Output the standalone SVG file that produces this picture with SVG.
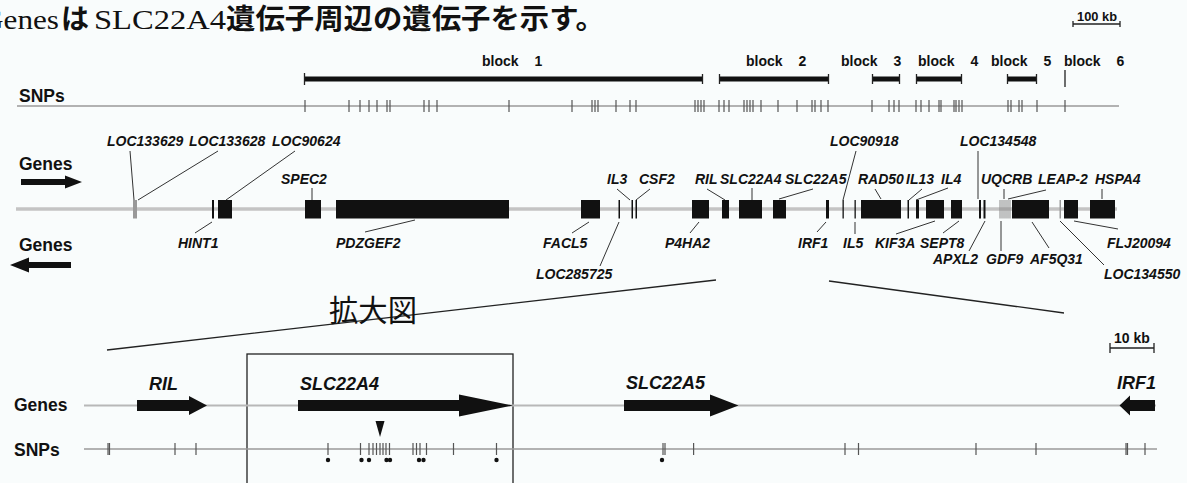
<svg xmlns="http://www.w3.org/2000/svg" width="1187" height="483" viewBox="0 0 1187 483">
<style>
text{fill:#111}
.t{font-family:'Liberation Serif','Noto Sans CJK JP',serif;font-size:28px}
.j{font-family:'Noto Sans CJK JP',sans-serif;font-size:28px;font-weight:bold}
.h{font-family:'Liberation Sans',Arial,sans-serif;font-weight:bold;font-size:17.5px}
.b{font-family:'Liberation Sans',Arial,sans-serif;font-weight:bold;font-size:14px;word-spacing:12px}
.g{font-family:'Liberation Sans',Arial,sans-serif;font-weight:bold;font-style:italic;font-size:14px}
.G{font-family:'Liberation Sans',Arial,sans-serif;font-weight:bold;font-style:italic;font-size:18px}
.s{font-family:'Liberation Sans',Arial,sans-serif;font-weight:bold;font-size:12px}
.bar{fill:#111}
.gl{stroke:#c4c4c4;stroke-width:3.5;fill:none}
.gl2{stroke:#b8b8b8;stroke-width:2;fill:none}
.sl{stroke:#9a9a9a;stroke-width:1.3;fill:none}
.tk{stroke:#555;stroke-width:1.2;fill:none}
.ld{stroke:#333;stroke-width:1;fill:none}
.thin{fill:#999}
.k{stroke:#222;stroke-width:1.3;fill:none}
</style>
<rect width="1187" height="483" fill="#f9fcfc"/>

<g id="title">
<text class="t" x="-19" y="29" textLength="78" lengthAdjust="spacingAndGlyphs">Genes</text>
<text class="j" x="61" y="29">は</text>
<text class="t" x="94" y="29" textLength="132" lengthAdjust="spacingAndGlyphs">SLC22A4</text>
<text class="j" x="226" y="29" textLength="379" lengthAdjust="spacingAndGlyphs">遺伝子周辺の遺伝子を示す。</text>
</g>

<g id="scale100">
<text class="s" x="1077" y="21" textLength="40" lengthAdjust="spacingAndGlyphs">100 kb</text>
<path class="k" d="M1073 24H1120M1073 21V27M1120 21V27" stroke-width="1"/>
</g>

<g id="blocks">
<text class="b" x="482" y="66">block 1</text>
<text class="b" x="746" y="66">block 2</text>
<text class="b" x="841" y="66">block 3</text>
<text class="b" x="918" y="66">block 4</text>
<text class="b" x="991" y="66">block 5</text>
<text class="b" x="1064" y="66">block 6</text>
<rect class="bar" x="304" y="76.5" width="399" height="5"/>
<rect class="bar" x="719" y="76.5" width="110" height="5"/>
<rect class="bar" x="872" y="76.5" width="28" height="5"/>
<rect class="bar" x="916" y="76.5" width="46" height="5"/>
<rect class="bar" x="1007" y="76.5" width="30" height="5"/>
<path class="k" d="M304.5 73V85M702.5 74V84M719.5 74V84M828.5 74V84M872.5 74V84M899.5 74V84M916.5 74V84M961.5 74V84M1007.5 74V84M1036.5 74V84M1065 70V87" stroke-width="1.2"/>
</g>

<g id="snps-top">
<text class="h" x="19" y="102">SNPs</text>
<line class="sl" x1="17" y1="106" x2="1119" y2="106"/>
<path class="tk" d="M305 100V112M349 100V112M360 100V112M369 100V112M377 100V112M387 100V112M390 100V112M424 100V112M429 100V112M437 100V112M509 100V112M572 100V112M592 100V112M595 100V112M598 100V112M616 100V112M630 100V112M636 100V112M695 100V112M698 100V112M701 100V112M704 100V112M719 100V112M724 100V112M729 100V112M744 100V112M747 100V112M750 100V112M753 100V112M761 100V112M778 100V112M797 100V112M812 100V112M815 100V112M821 100V112M828 100V112M872 100V112M889 100V112M894 100V112M899 100V112M916 100V112M921 100V112M929 100V112M939 100V112M941 100V112M954 100V112M956 100V112M959 100V112M962 100V112M1008 100V112M1011 100V112M1019 100V112M1022 100V112M1037 100V112M1065 100V112"/>
</g>

<g id="genes-fwd">
<text class="h" x="19" y="170">Genes</text>
<polygon class="bar" points="21,179 65,179 65,175.5 82,182 65,188.5 65,185 21,185"/>
</g>
<g id="genes-rev">
<text class="h" x="19" y="251">Genes</text>
<polygon class="bar" points="71,262 29,262 29,257.5 10,265 29,272.5 29,268 71,268"/>
</g>

<line class="gl" x1="16" y1="209" x2="1117" y2="209"/>

<g id="connectors">
<path class="ld" d="M130 151L134 200M218 151L138 200M295 151L226 200M312 188V200M617 189L630 200M650 189L636 200M707 189L725 200M752 188V200M813 189L779 199M856 151L843 200M875 189L881 199M922 189L909 200M948 188L916 200M978 151V199M1004 189V199M1008 199L1046 190M1102 189V199M212 222L195 233M415 220L365 232M589 222L572 233M619 222L600 266M699 222L690 233M826 222L817 232M855 222V234M935 221L896 234M959 221L943 233M985 221L969 251M1001 221V251M1032 222L1049 248M1074 221L1118 229M1060 221L1104 265"/>
<path class="k" d="M107 350L716 280M829 281L1064 313"/>
</g>

<g id="gene-LOC133629"><rect class="thin" x="133" y="200" width="4" height="18.5"/><text class="g" x="107" y="146">LOC133629</text></g>
<g id="gene-LOC133628"><rect class="bar" x="212" y="200" width="2" height="18.5"/><text class="g" x="189" y="146">LOC133628</text></g>
<g id="gene-LOC90624"><rect class="bar" x="218" y="200" width="14" height="18.5"/><text class="g" x="272" y="146">LOC90624</text></g>
<g id="gene-HINT1"><text class="g" x="178" y="248">HINT1</text></g>
<g id="gene-SPEC2"><rect class="bar" x="305" y="200" width="16" height="18.5"/><text class="g" x="281" y="184">SPEC2</text></g>
<g id="gene-PDZGEF2"><rect class="bar" x="336" y="200" width="173" height="18.5"/><text class="g" x="336" y="248">PDZGEF2</text></g>
<g id="gene-FACL5"><rect class="bar" x="581" y="200" width="19" height="18.5"/><text class="g" x="543" y="248">FACL5</text></g>
<g id="gene-LOC285725"><rect class="bar" x="618.5" y="200" width="1.5" height="18.5"/><text class="g" x="536" y="279">LOC285725</text></g>
<g id="gene-IL3"><rect class="bar" x="631.5" y="200" width="1.5" height="18.5"/><text class="g" x="607" y="184">IL3</text></g>
<g id="gene-CSF2"><rect class="bar" x="635.5" y="200" width="1.5" height="18.5"/><text class="g" x="639" y="184">CSF2</text></g>
<g id="gene-P4HA2"><rect class="bar" x="692" y="200" width="17" height="18.5"/><text class="g" x="665" y="248">P4HA2</text></g>
<g id="gene-RIL"><rect class="bar" x="722" y="200" width="7" height="18.5"/><text class="g" x="695" y="184">RIL</text></g>
<g id="gene-SLC22A4"><rect class="bar" x="739" y="200" width="23" height="18.5"/><text class="g" x="720" y="184">SLC22A4</text></g>
<g id="gene-SLC22A5"><rect class="bar" x="773" y="200" width="13" height="18.5"/><text class="g" x="785" y="184">SLC22A5</text></g>
<g id="gene-IRF1"><rect class="bar" x="826" y="200" width="3" height="18.5"/><text class="g" x="798" y="248">IRF1</text></g>
<g id="gene-LOC90918"><rect class="bar" x="842.5" y="200" width="1.3" height="18.5"/><text class="g" x="830" y="146">LOC90918</text></g>
<g id="gene-IL5"><rect class="bar" x="854.5" y="200" width="1.3" height="18.5"/><text class="g" x="843" y="248">IL5</text></g>
<g id="gene-RAD50"><rect class="bar" x="861" y="200" width="40" height="18.5"/><text class="g" x="858" y="184">RAD50</text></g>
<g id="gene-IL13"><rect class="bar" x="907.5" y="200" width="1.5" height="18.5"/><text class="g" x="906" y="184">IL13</text></g>
<g id="gene-IL4"><rect class="bar" x="916" y="200" width="3" height="18.5"/><text class="g" x="941" y="184">IL4</text></g>
<g id="gene-KIF3A"><rect class="bar" x="926" y="200" width="18" height="18.5"/><text class="g" x="875" y="248">KIF3A</text></g>
<g id="gene-SEPT8"><rect class="bar" x="951" y="200" width="11" height="18.5"/><text class="g" x="920" y="248">SEPT8</text></g>
<g id="gene-LOC134548"><rect class="bar" x="979" y="200" width="2" height="18.5"/><text class="g" x="960" y="146">LOC134548</text></g>
<g id="gene-APXL2"><rect class="bar" x="983.5" y="200" width="2" height="18.5"/><text class="g" x="933" y="264">APXL2</text></g>
<g id="gene-GDF9"><path d="M1000 200V218.5M1002 200V218.5M1004 200V218.5M1006 200V218.5M1008 200V218.5M1010 200V218.5" stroke="#888" stroke-width="1"/><text class="g" x="986" y="264">GDF9</text></g>
<g id="gene-UQCRB"><text class="g" x="981" y="184">UQCRB</text></g>
<g id="gene-AF5Q31"><rect class="bar" x="1012" y="200" width="37" height="18.5"/><text class="g" x="1030" y="264">AF5Q31</text></g>
<g id="gene-LEAP-2"><rect class="thin" x="1059.5" y="200" width="1.5" height="18.5"/><text class="g" x="1038" y="184">LEAP-2</text></g>
<g id="gene-LOC134550"><rect class="bar" x="1064" y="200" width="14" height="18.5"/><text class="g" x="1104" y="279">LOC134550</text></g>
<g id="gene-FLJ20094"><text class="g" x="1107" y="248">FLJ20094</text></g>
<g id="gene-HSPA4"><rect class="bar" x="1090" y="200" width="25" height="18.5"/><text class="g" x="1095" y="184">HSPA4</text></g>

<g id="zoom-label"><text class="j" x="329" y="321" textLength="88" lengthAdjust="spacingAndGlyphs" style="font-size:30px;font-weight:normal">拡大図</text></g>

<g id="scale10">
<text class="h" x="1114" y="343" style="font-size:14px">10 kb</text>
<path class="k" d="M1110 348H1154M1110 343V353M1154 343V353" stroke-width="1"/>
</g>

<g id="highlight-box"><rect x="247" y="354" width="266" height="140" class="k"/></g>

<g id="detail-genes">
<text class="h" x="14" y="411">Genes</text>
<line class="gl2" x1="84" y1="405.5" x2="1156" y2="405.5"/>
</g>
<g id="d-RIL"><text class="G" x="149" y="390">RIL</text><polygon class="bar" points="137,400 189,400 189,396 207,405.5 189,415 189,411 137,411"/></g>
<g id="d-SLC22A4"><text class="G" x="300" y="390">SLC22A4</text><polygon class="bar" points="298,400 459,400 459,394.5 513,405.5 459,416.5 459,411 298,411"/></g>
<g id="d-SLC22A5"><text class="G" x="626" y="389">SLC22A5</text><polygon class="bar" points="624,400 710,400 710,394.5 738.5,405.5 710,416.5 710,411 624,411"/></g>
<g id="d-IRF1"><text class="G" x="1117" y="389">IRF1</text><polygon class="bar" points="1155,400 1130,400 1130,395.5 1119.5,405.5 1130,415.5 1130,411 1155,411"/></g>

<g id="detail-snps">
<text class="h" x="14" y="456">SNPs</text>
<line class="sl" x1="84" y1="449" x2="1157" y2="449"/>
<path class="tk" d="M108 443V455M109.5 443V455M175 443V455M196 443V455M328 443V455M360.5 443V455M369 443V455M373 443V455M376.5 443V455M380 443V455M383 443V455M386 443V455M389.5 443V455M413 443V455M416.5 443V455M420 443V455M426.5 443V455M453.5 443V455M496.5 443V455M663 443V455M665 443V455M693.6 443V455M845 443V455M858.5 443V455M976 443V455M1036 443V455M1126 443V455M1127.5 443V455M1145 443V455"/>
<polygon class="bar" points="375.5,421 384.5,421 380,437"/>
<g class="bar">
<circle cx="328" cy="460" r="2.2"/><circle cx="361.5" cy="460" r="2.2"/><circle cx="369" cy="460" r="2.2"/><circle cx="386.5" cy="460" r="2.2"/><circle cx="390" cy="460" r="2.2"/><circle cx="419" cy="460" r="2.2"/><circle cx="423.5" cy="460" r="2.2"/><circle cx="496.5" cy="460" r="2.2"/><circle cx="662" cy="460" r="2.2"/>
</g>
</g>
</svg>
